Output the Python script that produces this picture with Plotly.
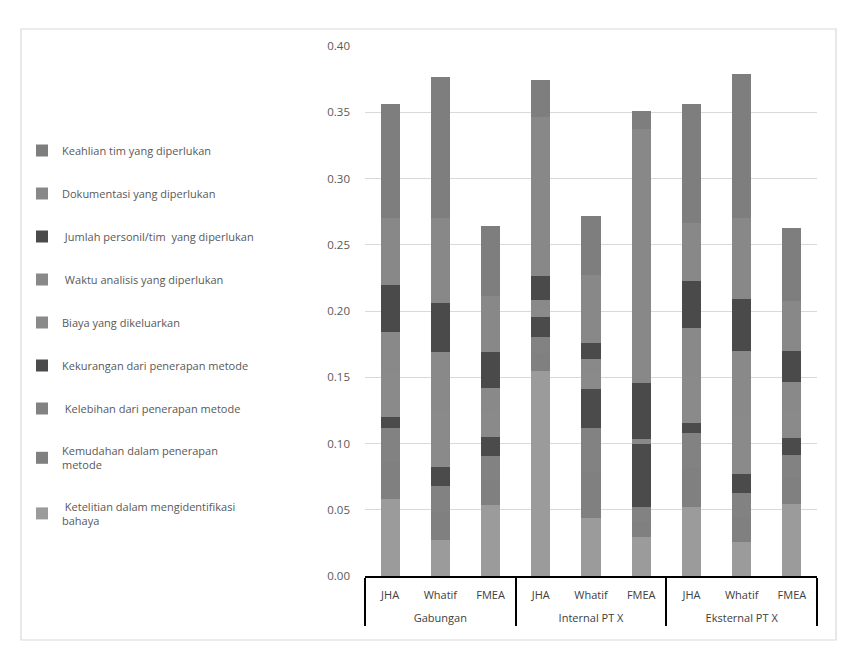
import plotly.graph_objects as go

group_names = ["Gabungan", "Internal PT X", "Eksternal PT X"]
groups = [g for g in group_names for _ in range(3)]
methods = ["JHA", "Whatif", "FMEA"] * 3

# series, bottom of the stack first
series_names = [
    " Ketelitian dalam mengidentifikasi<br>bahaya",
    "Kemudahan dalam penerapan<br>metode",
    " Kelebihan dari penerapan metode",
    "Kekurangan dari penerapan metode",
    "Biaya yang dikeluarkan",
    " Waktu analisis yang diperlukan",
    " Jumlah personil/tim  yang diperlukan",
    "Dokumentasi yang diperlukan",
    "Keahlian tim yang diperlukan",
]
ketelitian = [0.058, 0.027, 0.0535, 0.155, 0.0435, 0.0297, 0.0523, 0.0254, 0.0543]
kemudahan = [0.028, 0.021, 0.019, 0.013, 0.035, 0.012, 0.029, 0.019, 0.019]
kelebihan = [0.0254, 0.020, 0.018, 0.0127, 0.033, 0.0106, 0.0263, 0.018, 0.0179]
kekurangan = [0.0088, 0.0144, 0.0145, 0.015, 0.030, 0.047, 0.008, 0.0145, 0.0126]
biaya = [0.032, 0.043, 0.019, 0.006, 0.011, 0.002, 0.036, 0.043, 0.021]
waktu = [0.0316, 0.0433, 0.018, 0.0065, 0.011, 0.0023, 0.0352, 0.0501, 0.0217]
jumlah = [0.0362, 0.0377, 0.0267, 0.018, 0.012, 0.042, 0.036, 0.0394, 0.0235]
dokumentasi = [0.0505, 0.0641, 0.0427, 0.12, 0.0515, 0.192, 0.0438, 0.061, 0.0376]
keahlian = [0.086, 0.106, 0.0526, 0.0285, 0.0445, 0.0134, 0.0895, 0.1085, 0.0554]

values = [ketelitian, kemudahan, kelebihan, kekurangan, biaya, waktu, jumlah, dokumentasi, keahlian]
colors = ["#9b9b9b", "#808080", "#828282", "#4b4b4b", "#8a8a8a", "#898989", "#4a4a4a", "#888888", "#7e7e7e"]

# group labels sit one line lower than Plotly's default
group_labels = ["<br>" + g for g in groups]

fig = go.Figure()
n = len(series_names)
for i, (name, vals, col) in enumerate(zip(series_names, values, colors)):
    fig.add_trace(go.Bar(
        x=[group_labels, methods], y=vals, name=name,
        marker=dict(color=col, line=dict(width=0)),
        legendgroup=f"g{i}", legendrank=n - i,
    ))

W, H = 847, 660
L, R, T, B = 365, 30, 46, 84
pw, ph = W - L - R, H - T - B

def px_x(p):
    return (p - L) / pw

def px_y(p):
    return (H - B - p) / ph

fig.update_layout(
    width=W, height=H,
    margin=dict(l=L, r=R, t=T, b=B),
    barmode="stack", bargap=0.62,
    plot_bgcolor="white", paper_bgcolor="white",
    font=dict(family="Open Sans", size=11, color="#595959"),
    showlegend=True,
    legend=dict(
        x=px_x(22), y=px_y(136), xanchor="left", yanchor="top",
        traceorder="grouped", tracegroupgap=24,
        font=dict(size=11, color="#595959"),
        bgcolor="rgba(0,0,0,0)", itemwidth=30,
    ),
    yaxis=dict(
        range=[0, 0.40], dtick=0.05, tickformat=".2f",
        showgrid=True, gridcolor="#d9d9d9", gridwidth=1,
        zeroline=False, showline=False, ticks="",
        tickfont=dict(size=11.5, color="#595959"), ticklabelstandoff=14,
    ),
    xaxis=dict(
        type="multicategory", showline=True, linecolor="black", linewidth=1.5,
        showdividers=True, dividercolor="black", dividerwidth=2,
        tickfont=dict(size=11, color="#404040"),
        showgrid=False, ticks="", ticklabelstandoff=8,
    ),
    shapes=[dict(
        type="rect", xref="paper", yref="paper",
        x0=px_x(21), x1=px_x(836), y0=px_y(640), y1=px_y(29),
        line=dict(color="#d9d9d9", width=1.2), fillcolor="rgba(0,0,0,0)", layer="below",
    )],
)

fig.write_html("out.html")
